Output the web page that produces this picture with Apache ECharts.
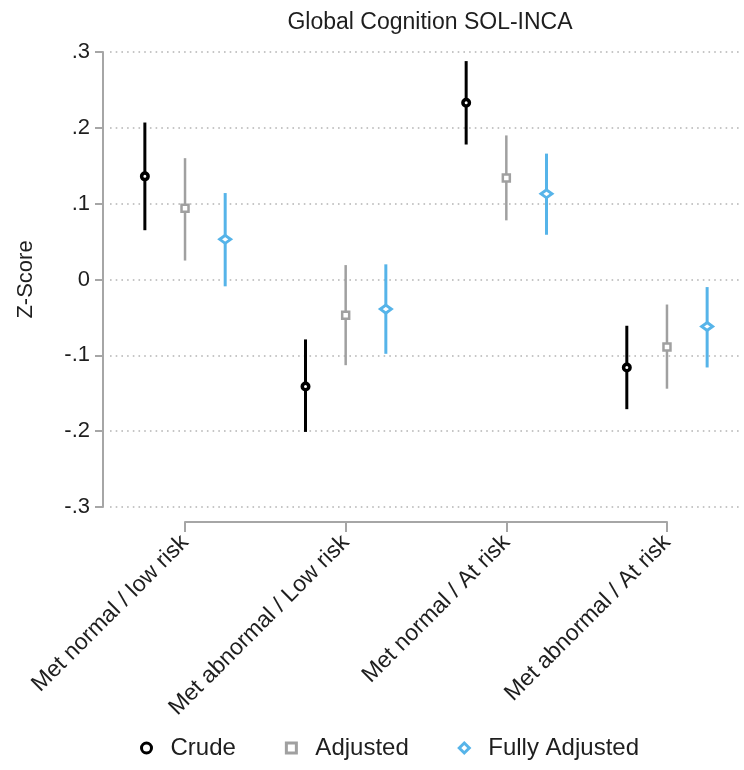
<!DOCTYPE html>
<html>
<head>
<meta charset="utf-8">
<script src="https://cdn.jsdelivr.net/npm/echarts@6/dist/echarts.min.js"></script>
<style>
html,body{margin:0;padding:0;background:#fff;}
#c{width:744px;height:770px;}
</style>
</head>
<body>
<div id="c"></div>
<script>
var categories = ['Met normal / low risk', 'Met abnormal / Low risk', 'Met normal / At risk', 'Met abnormal / At risk'];
var seriesNames = ['Crude', 'Adjusted', 'Fully Adjusted'];
var crude = [0.136, -0.141, 0.233, -0.116];
var crudeLow = [0.065, -0.201, 0.178, -0.171];
var crudeHigh = [0.207, -0.079, 0.288, -0.061];
var adjusted = [0.094, -0.047, 0.134, -0.089];
var adjustedLow = [0.025, -0.113, 0.078, -0.144];
var adjustedHigh = [0.160, 0.019, 0.190, -0.033];
var fully = [0.053, -0.039, 0.113, -0.062];
var fullyLow = [-0.009, -0.098, 0.059, -0.116];
var fullyHigh = [0.114, 0.020, 0.166, -0.010];
var yTickLabels = ['-.3', '-.2', '-.1', '0', '.1', '.2', '.3'];

var FONT = 'Liberation Sans, Arial, sans-serif';
var TXT = '#1e1e1e';
var AX = '#a6a6a6';
var colors = ['#000000', '#a0a0a0', '#56b4e9'];
var offsets = [-0.25, 0, 0.25];
var means = [crude, adjusted, fully];
var lows = [crudeLow, adjustedLow, fullyLow];
var highs = [crudeHigh, adjustedHigh, fullyHigh];
var symbols = ['circle', 'rect', 'diamond'];
var symSizes = [6.5, 7, [11, 8]];
var borderWs = [3.5, 2.5, 3];
var barWidths = [3, 2.5, 3];

var series = [];
for (var s = 0; s < 3; s++) {
  (function (s) {
    var errData = categories.map(function (c, i) { return [i + 1 + offsets[s], lows[s][i], highs[s][i]]; });
    series.push({
      type: 'custom',
      name: seriesNames[s] + ' CI',
      xAxisIndex: 0, yAxisIndex: 0,
      z: 2,
      encode: { x: 0, y: [1, 2] },
      data: errData,
      renderItem: function (params, api) {
        var p1 = api.coord([api.value(0), api.value(1)]);
        var p2 = api.coord([api.value(0), api.value(2)]);
        return {
          type: 'line',
          shape: { x1: p1[0], y1: p1[1], x2: p2[0], y2: p2[1] },
          style: { stroke: colors[s], lineWidth: barWidths[s] }
        };
      },
      silent: true
    });
    series.push({
      type: 'scatter',
      name: seriesNames[s],
      xAxisIndex: 0, yAxisIndex: 0,
      z: 5,
      symbol: symbols[s],
      symbolSize: symSizes[s],
      itemStyle: { color: '#ffffff', borderColor: colors[s], borderWidth: borderWs[s], opacity: 1 },
      data: categories.map(function (c, i) { return [i + 1 + offsets[s], means[s][i]]; })
    });
  })(s);
}

var chart = echarts.init(document.getElementById('c'), null, { renderer: 'canvas' });
chart.setOption({
  animation: false,
  backgroundColor: '#ffffff',
  textStyle: { fontFamily: FONT },
  title: {
    text: 'Global Cognition SOL-INCA',
    left: 425, top: 6, textAlign: 'center',
    textStyle: { fontFamily: FONT, fontSize: 23, fontWeight: 'normal', color: TXT }
  },
  legend: {
    data: seriesNames.map(function (n, i) {
      return { name: n, icon: symbols[i], itemStyle: { color: '#ffffff', borderColor: colors[i], borderWidth: 3 } };
    }),
    left: 135, top: 731,
    itemWidth: 10, itemHeight: 10, itemGap: 49,
    textStyle: { fontFamily: FONT, fontSize: 24, color: TXT, padding: [0, 0, 0, 14] }
  },
  grid: [
    { left: 110, right: 2, top: 52, bottom: 263 },
    { left: 185, right: 77, top: 500, bottom: 248 }
  ],
  xAxis: [
    { type: 'value', gridIndex: 0, min: 0.533, max: 4.467, show: false },
    {
      type: 'category', gridIndex: 1, data: categories, boundaryGap: false,
      axisLine: { show: true, lineStyle: { color: AX, width: 2 } },
      axisTick: { show: true, length: 10, lineStyle: { color: AX, width: 2 } },
      axisLabel: { rotate: 45, margin: 17, fontFamily: FONT, fontSize: 23, color: TXT, interval: 0 }
    }
  ],
  yAxis: [
    {
      type: 'value', gridIndex: 0, min: -0.3, max: 0.3, interval: 0.1, offset: 7,
      name: 'Z-Score', nameLocation: 'middle', nameGap: 66, nameRotate: 90,
      nameTextStyle: { fontFamily: FONT, fontSize: 22, color: TXT },
      axisLine: { show: true, lineStyle: { color: AX, width: 2 } },
      axisTick: { show: true, length: 8, lineStyle: { color: AX, width: 2 } },
      axisLabel: {
        margin: 13, fontFamily: FONT, fontSize: 22, color: TXT,
        formatter: function (v) { return yTickLabels[Math.round(v * 10) + 3]; }
      },
      splitLine: { show: true, lineStyle: { color: '#b4b4b4', width: 1.6, type: [1.6, 4.1] } }
    },
    { type: 'value', gridIndex: 1, show: false }
  ],
  series: series
});
</script>
</body>
</html>
